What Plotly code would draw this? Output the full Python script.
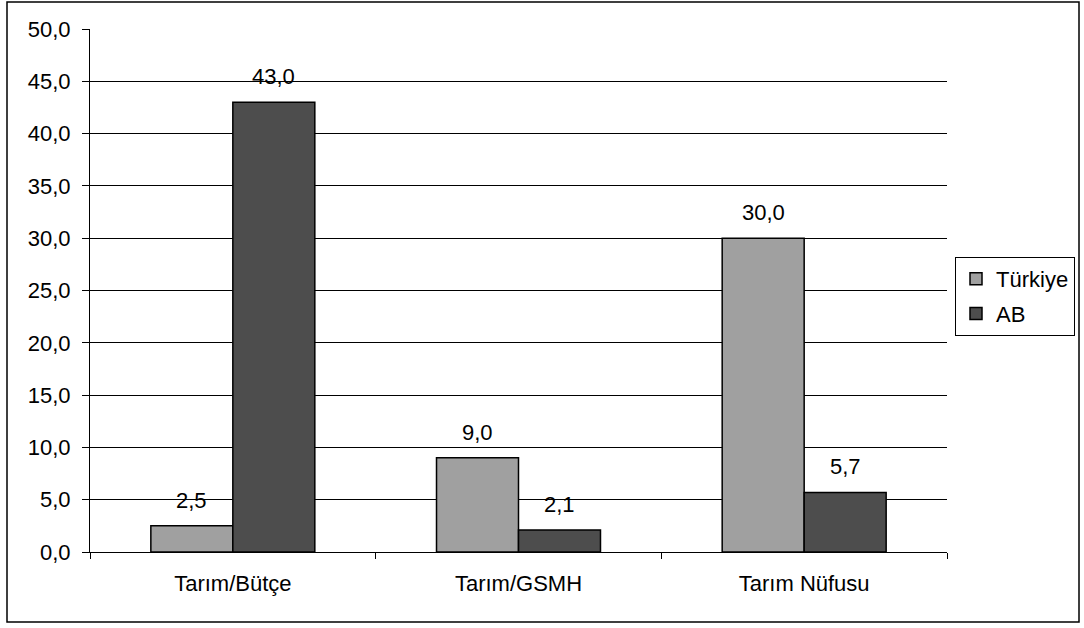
import plotly.graph_objects as go

categories = ["Tarım/Bütçe", "Tarım/GSMH", "Tarım Nüfusu"]
turkiye = [2.5, 9.0, 30.0]
ab = [43.0, 2.1, 5.7]
series_names = ["Türkiye", "AB"]
y_ticks = [0, 5, 10, 15, 20, 25, 30, 35, 40, 45, 50]

W, H = 1084, 628
L, R, T, B = 90, 947, 29, 552
pw, ph = R - L, B - T

fig = go.Figure()
fig.add_trace(go.Bar(name=series_names[0], x=categories, y=turkiye, legendgroup="g1",
                     marker=dict(color="#A0A0A0", line=dict(color="#000000", width=1.5))))
fig.add_trace(go.Bar(name=series_names[1], x=categories, y=ab, legendgroup="g2",
                     marker=dict(color="#4D4D4D", line=dict(color="#000000", width=1.5))))

font = dict(family="Liberation Sans, Arial, sans-serif", size=22, color="#000000")

annotations = []
for vals, shift in ((turkiye, -41), (ab, 41)):
    for c, v in zip(categories, vals):
        annotations.append(dict(x=c, y=v, xref="x", yref="y", text=f"{v:.1f}".replace(".", ","),
                                showarrow=False, xshift=shift, yanchor="bottom", yshift=11, font=font))

fig.update_layout(
    width=W, height=H,
    margin=dict(l=L, r=W - R, t=T, b=H - B, pad=0, autoexpand=False),
    paper_bgcolor="white", plot_bgcolor="white",
    barmode="group", bargap=0.426, bargroupgap=0,
    separators=",.",
    font=font,
    showlegend=True,
    hovermode=False,
    legend=dict(x=(955 - L) / pw, y=(B - 257) / ph, xanchor="left", yanchor="top",
                bordercolor="#000000", borderwidth=1, bgcolor="white",
                font=font, traceorder="grouped", tracegroupgap=3, itemwidth=30),
    annotations=annotations,
    shapes=[dict(type="rect", xref="paper", yref="paper",
                 x0=(7 - L) / pw, x1=(1079 - L) / pw, y0=(B - 622) / ph, y1=(B - 2) / ph,
                 line=dict(color="#000000", width=1.5), fillcolor="rgba(0,0,0,0)", layer="below")],
)
fig.update_yaxes(range=[0, 50], tickvals=y_ticks, tickformat=".1f",
                 showgrid=True, gridcolor="#000000", gridwidth=1,
                 showline=True, linecolor="#000000", linewidth=1,
                 ticks="outside", ticklen=7, tickcolor="#000000",
                 ticklabelstandoff=7, zeroline=False, tickfont=font)
fig.update_xaxes(showline=True, linecolor="#000000", linewidth=1,
                 ticks="outside", ticklen=6, tickcolor="#000000", tickson="boundaries",
                 ticklabelstandoff=12, showgrid=False, tickfont=font)

fig.write_html("out.html", config={"displayModeBar": False, "staticPlot": True},
               post_script="document.body.style.margin='0px';document.body.style.overflow='hidden';")
